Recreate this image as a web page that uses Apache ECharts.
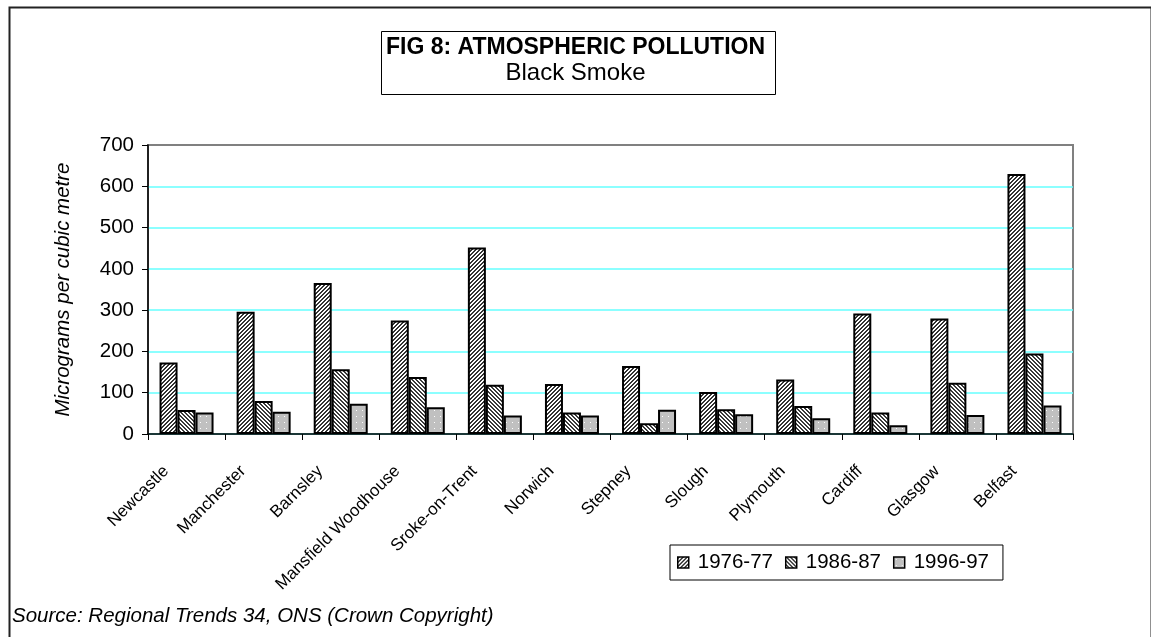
<!DOCTYPE html>
<html>
<head>
<meta charset="utf-8">
<script src="https://cdn.jsdelivr.net/npm/echarts@6/dist/echarts.min.js"></script>
<style>
html,body{margin:0;padding:0;background:#fff;}
#c{width:1151px;height:637px;}
</style>
</head>
<body>
<div id="c"></div>
<script>
const categories = ['Newcastle','Manchester','Barnsley','Mansfield Woodhouse','Sroke-on-Trent','Norwich','Stepney','Slough','Plymouth','Cardiff','Glasgow','Belfast'];
const seriesNames = ['1976-77','1986-87','1996-97'];
const s1976 = [173,296,366,275,452,121,165,102,132,292,280,630];
const s1986 = [58,80,157,138,119,52,26,60,68,52,124,195];
const s1996 = [52,54,73,65,45,45,59,48,38,21,46,69];
const yTicks = {min:0,max:700,interval:100};
const titleText = 'FIG 8: ATMOSPHERIC POLLUTION';
const subtitleText = 'Black Smoke';
const yAxisTitle = 'Micrograms per cubic metre';
const sourceText = 'Source: Regional Trends 34, ONS (Crown Copyright)';

const FONT = "'Liberation Sans', Arial, sans-serif";

function makePattern(size, bg, fg, test){
  const c = document.createElement('canvas');
  c.width = size; c.height = size;
  const ctx = c.getContext('2d');
  ctx.fillStyle = bg; ctx.fillRect(0,0,size,size);
  ctx.fillStyle = fg;
  for(let y=0;y<size;y++) for(let x=0;x<size;x++) if(test(x,y)) ctx.fillRect(x,y,1,1);
  return c;
}
const pat1 = makePattern(4,'#ffffff','#333333',(x,y)=>((x+y)%4===0||(x+y)%4===1));
const pat2 = makePattern(4,'#ffffff','#3a3a3a',(x,y)=>(((x-y)+8)%4===0||((x-y)+8)%4===1) && !(x===0&&y===2));
const pat3 = makePattern(6,'#c0c0c0','#ffffff',(x,y)=>(x===2&&y===2));
const pats = [pat1,pat2,pat3];
const datas = [s1976,s1986,s1996];

const gridColors = ['#66ffff','#66ffff','#66ffff','#66ffff','#66ffff','#66ffff','#66ffff','#808080'];

const chart = echarts.init(document.getElementById('c'),null,{renderer:'canvas'});
const option = {
  backgroundColor:'#ffffff',
  animation:false,
  textStyle:{fontFamily:FONT},
  grid:{left:148,right:78,top:145,bottom:203,show:true,borderColor:'#808080',borderWidth:2,backgroundColor:'transparent'},
  legend:{
    left:670, top:545,
    data:seriesNames,
    icon:'rect', itemWidth:11, itemHeight:11, itemGap:12,
    padding:[7,14,7,7],
    borderColor:'#000', borderWidth:1,
    backgroundColor:'#fff',
    textStyle:{fontSize:20.5,color:'#000',fontFamily:FONT,padding:[0,0,0,4]},
    itemStyle:{borderColor:'#000',borderWidth:1.5}
  },
  xAxis:{
    type:'category', data:categories,
    axisLine:{lineStyle:{color:'#000',width:1.5}},
    axisTick:{show:true,alignWithLabel:false,length:6,lineStyle:{color:'#000'}},
    axisLabel:{rotate:45,interval:0,fontSize:17,color:'#000',fontFamily:FONT,margin:14,padding:[0,29,0,0]}
  },
  yAxis:{
    type:'value', min:yTicks.min, max:yTicks.max, interval:yTicks.interval,
    name:yAxisTitle, nameLocation:'middle', nameRotate:90, nameGap:75,
    nameTextStyle:{fontSize:20.5,fontStyle:'italic',color:'#000',fontFamily:FONT},
    axisLine:{show:true,lineStyle:{color:'#000',width:1.5}},
    axisTick:{show:true,length:6,lineStyle:{color:'#000'}},
    axisLabel:{fontSize:20.5,color:'#000',fontFamily:FONT,margin:14},
    splitLine:{show:true,lineStyle:{color:gridColors,width:1.5}}
  },
  series: seriesNames.map((n,i)=>({
    name:n, type:'bar', data:datas[i],
    barWidth:18, barGap:'0%',
    itemStyle:{color:{image:pats[i],repeat:'repeat'},borderColor:'#000',borderWidth:2}
  })),
  graphic:[
    {type:'rect',left:7,top:5,shape:{width:1142,height:640},style:{fill:'none',stroke:'#222',lineWidth:2},z:-1,silent:true},
    {type:'rect',left:381,top:31,shape:{width:394,height:63},style:{fill:'#fff',stroke:'#000',lineWidth:1},z:10},
    {type:'text',left:'center',top:36,style:{text:titleText,font:'bold 23px '+FONT,fill:'#000',textAlign:'center'},z:11},
    {type:'text',left:'center',top:61,style:{text:subtitleText,font:'24px '+FONT,fill:'#000',textAlign:'center'},z:11},
    {type:'text',left:12,top:606,style:{text:sourceText,font:'italic 20.5px '+FONT,fill:'#000'},z:11}
  ]
};
chart.setOption(option);
</script>
</body>
</html>
